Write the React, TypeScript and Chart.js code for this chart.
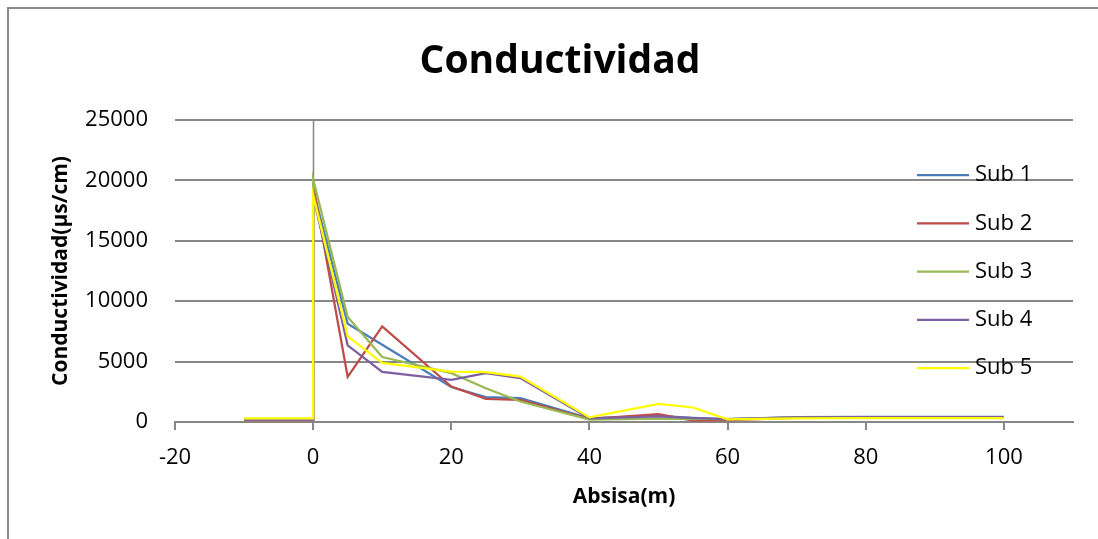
import React, { useEffect, useRef } from "react";
import { Chart, registerables } from "chart.js";

Chart.register(...registerables);

// Abscisa (m) of each sampling point; 0 appears twice for the step at the source.
const abscisa = [-10, 0, 0, 5, 10, 20, 25, 30, 40, 50, 55, 60, 70, 80, 90, 100];

// Conductividad (µs/cm) per sub-sample
const sub1 = [250, 250, 19200, 8140, 6400, 2900, 2060, 1980, 300, 500, 350, 230, 400, 420, 420, 420];
const sub2 = [150, 150, 19600, 3730, 7920, 2940, 1920, 1840, 250, 660, 120, 150, 350, 380, 380, 380];
const sub3 = [200, 200, 20100, 8690, 5380, 4040, 2800, 1700, 200, 270, 230, 230, 380, 400, 400, 400];
const sub4 = [200, 200, 18700, 6350, 4140, 3490, 4040, 3630, 300, 460, 330, 240, 380, 400, 400, 400];
const sub5 = [300, 300, 18800, 7090, 4890, 4180, 4120, 3760, 380, 1490, 1200, 220, 300, 320, 320, 330];

const seriesNames = ["Sub 1", "Sub 2", "Sub 3", "Sub 4", "Sub 5"];
const seriesValues = [sub1, sub2, sub3, sub4, sub5];
const seriesColors = ["#4a7ebb", "#be4b48", "#98b954", "#7d60a0", "#ffff00"];

const xTicks = [-20, 0, 20, 40, 60, 80, 100];
const yTicks = [0, 5000, 10000, 15000, 20000, 25000];

const chartTitle = "Conductividad";

const GRID = "#878787";
const FONT = "'Open Sans', 'DejaVu Sans', sans-serif";

// Vertical axis line drawn where x = 0, as in the spreadsheet original.
const zeroAxisPlugin = {
  id: "zeroAxis",
  beforeDatasetsDraw(chart: any) {
    const { ctx, chartArea, scales } = chart;
    const x = Math.round(scales.x.getPixelForValue(0)) + 0.5;
    ctx.save();
    ctx.strokeStyle = GRID;
    ctx.lineWidth = 1.5;
    ctx.beginPath();
    ctx.moveTo(x, chartArea.top);
    ctx.lineTo(x, chartArea.bottom);
    ctx.stroke();
    ctx.restore();
  },
};

// Chart title, centred on the whole chart frame rather than the plot area.
const frameTitlePlugin = {
  id: "frameTitle",
  afterDraw(chart: any) {
    const { ctx } = chart;
    ctx.save();
    ctx.font = `bold 39px ${FONT}`;
    ctx.fillStyle = "#000";
    ctx.textAlign = "center";
    ctx.textBaseline = "alphabetic";
    ctx.fillText(chartTitle, 560, 73);
    ctx.restore();
  },
};

// Legend placed over the right part of the plot area.
const innerLegendPlugin = {
  id: "innerLegend",
  afterDraw(chart: any) {
    const { ctx } = chart;
    const lineX0 = 917;
    const lineX1 = 969;
    const textX = 975;
    const firstY = 175;
    const step = 48.3;
    ctx.save();
    ctx.font = `22px ${FONT}`;
    ctx.textBaseline = "middle";
    ctx.textAlign = "left";
    chart.data.datasets.forEach((ds: any, i: number) => {
      const y = firstY + i * step;
      ctx.strokeStyle = ds.borderColor;
      ctx.lineWidth = 2.25;
      ctx.beginPath();
      ctx.moveTo(lineX0, y);
      ctx.lineTo(lineX1, y);
      ctx.stroke();
      ctx.fillStyle = "#000";
      ctx.fillText(ds.label, textX, y);
    });
    ctx.restore();
  },
};

export default function App() {
  const canvasRef = useRef<HTMLCanvasElement | null>(null);

  useEffect(() => {
    if (!canvasRef.current) return;
    Chart.defaults.font.family = FONT;
    const datasets = seriesNames.map((name, i) => ({
      label: name,
      data: abscisa.map((x, j) => ({ x, y: seriesValues[i][j] })),
      borderColor: seriesColors[i],
      backgroundColor: seriesColors[i],
      borderWidth: 2.25,
      pointRadius: 0,
      tension: 0,
      fill: false,
      order: seriesNames.length - i,
    }));

    const chart = new Chart(canvasRef.current, {
      type: "line",
      data: { datasets },
      options: {
        animation: false,
        responsive: true,
        maintainAspectRatio: false,
        layout: { padding: { top: 120, left: 0, right: 25, bottom: 0 } },
        plugins: {
          legend: { display: false },
          tooltip: { enabled: false },
          title: { display: false },
        },
        scales: {
          x: {
            type: "linear",
            min: -20,
            max: 110,
            afterBuildTicks: (scale: any) => {
              scale.ticks = xTicks.map((v) => ({ value: v }));
            },
            afterFit: (scale: any) => {
              scale.height = 117;
            },
            grid: {
              drawOnChartArea: false,
              drawTicks: true,
              tickLength: 8,
              color: GRID,
              lineWidth: 2,
            },
            border: { display: true, color: GRID, width: 2 },
            ticks: {
              color: "#000",
              font: { family: FONT, size: 22 },
              padding: 15,
              maxRotation: 0,
            },
            title: {
              display: true,
              text: "Absisa(m)",
              color: "#000",
              font: { family: FONT, size: 21, weight: "bold" },
              padding: { top: 0, bottom: 29 },
            },
          },
          y: {
            type: "linear",
            min: 0,
            max: 25000,
            afterBuildTicks: (scale: any) => {
              scale.ticks = yTicks.map((v) => ({ value: v }));
            },
            afterFit: (scale: any) => {
              scale.width = 175;
            },
            grid: {
              drawTicks: false,
              color: GRID,
              lineWidth: 2,
            },
            border: { display: false },
            ticks: {
              color: "#000",
              font: { family: FONT, size: 22 },
              padding: 27,
              callback: (v: any) => String(v),
            },
            title: {
              display: true,
              text: "Conductividad(µs/cm)",
              color: "#000",
              font: { family: FONT, size: 21, weight: "bold" },
              padding: { top: 48, bottom: 0 },
            },
          },
        },
      },
      plugins: [zeroAxisPlugin, frameTitlePlugin, innerLegendPlugin],
    });

    return () => chart.destroy();
  }, []);

  return (
    <div
      style={{
        position: "fixed",
        left: 0,
        top: 0,
        width: 1098,
        height: 539,
        overflow: "hidden",
        background: "#fff",
      }}
    >
      <div
        style={{
          position: "absolute",
          left: 7,
          top: 7,
          width: 1200,
          height: 700,
          border: "2px solid #8a8a8a",
          boxSizing: "border-box",
        }}
      />
      <div style={{ position: "absolute", left: 0, top: 0, width: 1098, height: 539 }}>
        <canvas ref={canvasRef} />
      </div>
    </div>
  );
}
